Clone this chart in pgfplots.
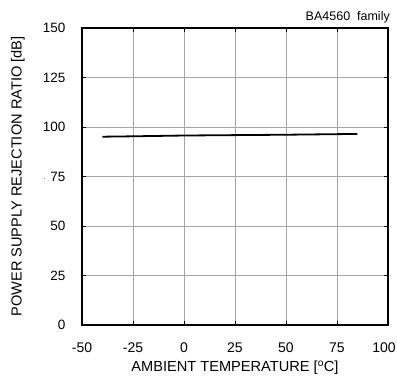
\documentclass[border=0pt]{standalone}
\usepackage{pgfplots}
\pgfplotsset{compat=1.18}
\usepackage{fontspec}
\setmainfont{Liberation Sans}

\begin{document}
\begin{tikzpicture}
\path[use as bounding box] (-82pt,-51pt) rectangle (315pt,325pt);
\begin{axis}[
    name=main,
    scale only axis,
    width=306pt, height=297pt,
    xmin=-50, xmax=100,
    ymin=0, ymax=150,
    xtick={-50,-25,0,25,50,75,100},
    xticklabels={-50,-25,0,25,50,75,{\kern-8pt 100}},
    ytick={0,25,50,75,100,125,150},
    yticklabels={0,25,50,{\raisebox{2pt}{\scriptsize.}\hspace{5pt}75},100,125,150},
    grid=major,
    major grid style={gray!70, line width=0.6pt},
    axis line style={black, line width=1.6pt},
    tick style={black, line width=0.6pt},
    tick align=inside,
    major tick length=4pt,
    xticklabel style={font=\fontsize{14}{15}\selectfont, yshift=-14pt},
    yticklabel style={font=\fontsize{13.5}{15}\selectfont, xshift=-13pt},
    /pgf/number format/assume math mode=true,
    xlabel={AMBIENT TEMPERATURE [\textsuperscript{o}C]},
    ylabel={POWER SUPPLY REJECTION RATIO [dB]},
    xlabel style={font=\fontsize{14.6}{15}\selectfont, at={(axis description cs:0.5,-0.145)}, anchor=center},
    ylabel style={font=\fontsize{14.6}{15}\selectfont, at={(axis description cs:-0.21,0.5)}, anchor=center},
]
\addplot[black, line width=1.8pt] coordinates {
    (-40,95.1) (-25,95.3) (0,95.7) (25,95.9) (50,96.1) (85,96.5)
};
\end{axis}
\node[anchor=base east, inner sep=0pt, font=\fontsize{12.5}{13}\selectfont]
    at ([xshift=2pt,yshift=8pt]main.north east) {BA4560\ \ family};
\end{tikzpicture}
\end{document}
